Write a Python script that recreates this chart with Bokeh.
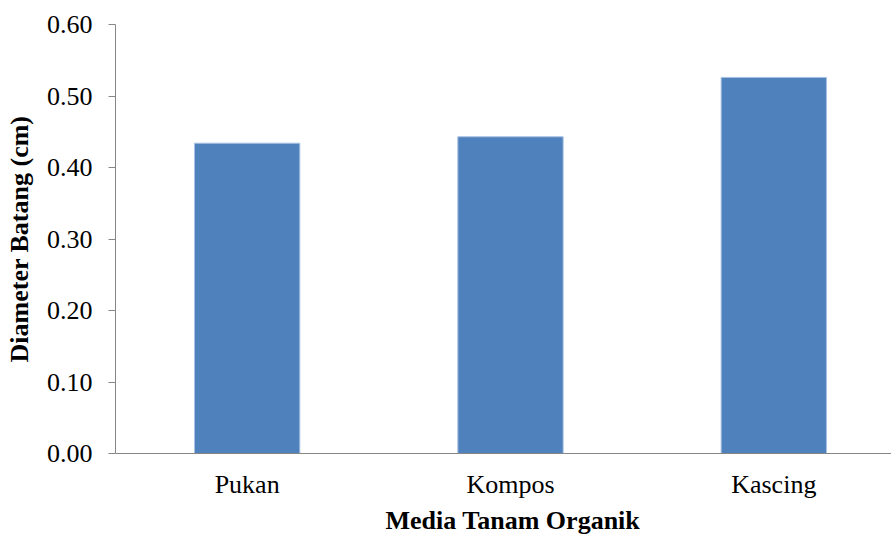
from bokeh.plotting import figure
from bokeh.models import Range1d, FixedTicker, Title, ColumnDataSource
from bokeh.embed import file_html
from bokeh.resources import INLINE

# Stem diameter per organic planting medium
categories = ["Pukan", "Kompos", "Kascing"]
diameter_cm = [0.434, 0.443, 0.526]
y_ticks = [0.0, 0.1, 0.2, 0.3, 0.4, 0.5, 0.6]

FONT = "Liberation Serif"
AXIS_GREY = "#868686"
BAR_BLUE = "#4f81bd"

positions = [i + 0.5 for i in range(len(categories))]
source = ColumnDataSource(dict(x=positions, top=diameter_cm, name=categories))

p = figure(
    width=891, height=537,
    x_range=Range1d(0, 2.947), y_range=Range1d(0, 0.6),
    output_backend="svg", toolbar_location=None,
    min_border_left=115, min_border_right=0,
    min_border_top=24, min_border_bottom=84,
    outline_line_color=None,
)

p.vbar(x="x", top="top", width=0.4, source=source,
       fill_color=BAR_BLUE, line_color="#a9c2e2", line_width=1)

p.xgrid.visible = False
p.ygrid.visible = False

# y axis
ya = p.yaxis[0]
ya.ticker = FixedTicker(ticks=y_ticks)
ya.major_label_overrides = {t: f"{t:.2f}" for t in y_ticks}
ya.axis_line_color = AXIS_GREY
ya.major_tick_line_color = AXIS_GREY
ya.major_tick_out = 7
ya.major_tick_in = 0
ya.minor_tick_line_color = None
ya.major_label_text_font = FONT
ya.major_label_text_font_size = "26px"
ya.major_label_text_color = "black"
ya.major_label_standoff = 16
ya.axis_label = "Diameter Batang (cm)"
ya.axis_label_text_font = FONT
ya.axis_label_text_font_size = "26px"
ya.axis_label_text_font_style = "bold"
ya.axis_label_text_color = "black"
ya.axis_label_standoff = 10

# x axis
xa = p.xaxis[0]
xa.ticker = FixedTicker(ticks=positions)
xa.major_label_overrides = {pos: c for pos, c in zip(positions, categories)}
xa.axis_line_color = AXIS_GREY
xa.major_tick_line_color = None
xa.minor_tick_line_color = None
xa.major_tick_out = 0
xa.major_tick_in = 0
xa.major_label_text_font = FONT
xa.major_label_text_font_size = "26px"
xa.major_label_text_color = "black"
xa.major_label_standoff = 16

# x axis title, under the middle of the category span
p.add_layout(Title(
    text="Media Tanam Organik", align="left", offset=270, standoff=5,
    text_font=FONT, text_font_size="26px", text_font_style="bold",
    text_color="black", text_line_height=0.8,
), "below")

open("out.html", "w").write(file_html(p, INLINE))
